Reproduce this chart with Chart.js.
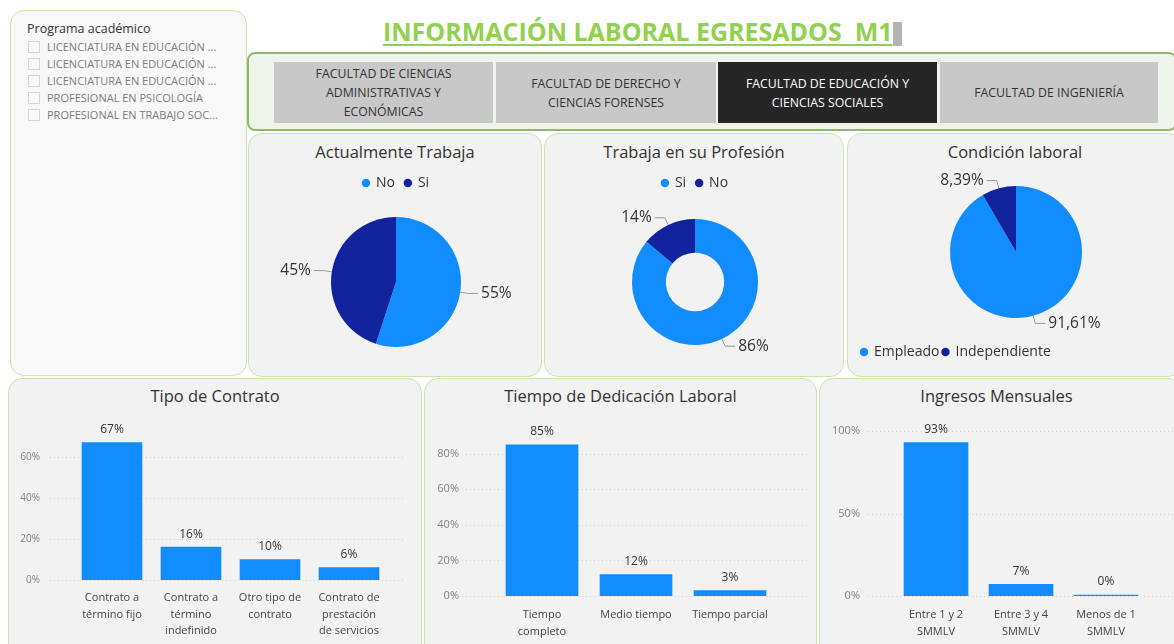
<!DOCTYPE html>
<html lang="es">
<head>
<meta charset="utf-8">
<title>Información laboral egresados M1</title>
<script src="https://cdn.jsdelivr.net/npm/chart.js@4.4.1/dist/chart.umd.min.js"></script>
<style>
  body { margin: 0; width: 1174px; height: 644px; overflow: hidden; background: #fff; position: relative; font-family: 'Open Sans', 'Noto Sans', sans-serif; }
  .panel { position: absolute; box-sizing: border-box; background: #f2f2f2; border: 1.5px solid #cbe4b0; border-radius: 14px; }
  canvas { position: absolute; }
  .ttl { position: absolute; text-align: center; font-size: 16.5px; line-height: 20px; color: #333; }
  .btn { position: absolute; top: 62px; height: 61px; width: 219px; background: #c8c8c8; color: #333; font-size: 12.3px; line-height: 19px; text-align: center; display: flex; align-items: center; justify-content: center; }
  .btn.on { background: #262626; color: #fff; }
  .item { position: absolute; left: 28px; font-size: 11px; color: #7c7c7c; line-height: 13px; white-space: nowrap; }
  .item span { display: inline-block; width: 10px; height: 10px; border: 1px solid #d6d6d6; background: #fafafa; vertical-align: -2px; margin-right: 7px; }
</style>
</head>
<body>

<!-- segmentador de programa -->
<div class="panel" style="left:10px;top:10px;width:237px;height:366px;background:#f8f8f8"></div>
<div style="position:absolute;left:27px;top:20px;font-size:12.5px;color:#333">Programa académico</div>
<div class="item" style="top:40px"><span></span>LICENCIATURA EN EDUCACIÓN ...</div>
<div class="item" style="top:57px"><span></span>LICENCIATURA EN EDUCACIÓN ...</div>
<div class="item" style="top:74px"><span></span>LICENCIATURA EN EDUCACIÓN ...</div>
<div class="item" style="top:91px"><span></span>PROFESIONAL EN PSICOLOGÍA</div>
<div class="item" style="top:108px"><span></span>PROFESIONAL EN TRABAJO SOC...</div>

<!-- titulo -->
<div style="position:absolute;left:383px;top:14px;font-size:25px;font-weight:bold;color:#92d050;text-decoration:underline;text-underline-offset:3px;white-space:pre">INFORMACIÓN LABORAL EGRESADOS  M1</div>
<div style="position:absolute;left:893px;top:22px;width:9px;height:24px;background:#b4b4b4"></div>

<!-- facultades -->
<div class="panel" style="left:247px;top:52px;width:930px;height:79px;background:#eef4ea;border:2px solid #8fb870;border-radius:8px"></div>
<div class="btn" style="left:274px">FACULTAD DE CIENCIAS<br>ADMINISTRATIVAS Y<br>ECONÓMICAS</div>
<div class="btn" style="left:496px;width:220px">FACULTAD DE DERECHO Y<br>CIENCIAS FORENSES</div>
<div class="btn on" style="left:718px">FACULTAD DE EDUCACIÓN Y<br>CIENCIAS SOCIALES</div>
<div class="btn" style="left:940px;width:218px">FACULTAD DE INGENIERÍA</div>

<!-- paneles de graficos -->
<div class="panel" style="left:248px;top:133px;width:294px;height:244px"></div>
<div class="panel" style="left:544px;top:133px;width:300px;height:244px"></div>
<div class="panel" style="left:847px;top:133px;width:335px;height:244px"></div>
<div class="panel" style="left:8px;top:378px;width:414px;height:280px"></div>
<div class="panel" style="left:424px;top:378px;width:393px;height:280px"></div>
<div class="panel" style="left:819px;top:378px;width:363px;height:280px"></div>

<div class="ttl" style="left:248px;top:142px;width:294px">Actualmente Trabaja</div>
<div class="ttl" style="left:544px;top:142px;width:300px">Trabaja en su Profesión</div>
<div class="ttl" style="left:847px;top:142px;width:336px">Condición laboral</div>
<div class="ttl" style="left:8px;top:386px;width:414px">Tipo de Contrato</div>
<div class="ttl" style="left:424px;top:386px;width:393px">Tiempo de Dedicación Laboral</div>
<div class="ttl" style="left:819px;top:386px;width:355px">Ingresos Mensuales</div>

<canvas id="actual" width="293" height="243" style="left:248px;top:133px"></canvas>
<canvas id="profesion" width="299" height="243" style="left:544px;top:133px"></canvas>
<canvas id="condicion" width="327" height="243" style="left:847px;top:133px"></canvas>
<canvas id="contrato" width="413" height="266" style="left:8px;top:378px"></canvas>
<canvas id="tiempo" width="392" height="266" style="left:424px;top:378px"></canvas>
<canvas id="ingresos" width="355" height="266" style="left:819px;top:378px"></canvas>

<script>
// ===================================
// Datos
// ===================================
const actualLabels = ['No', 'Si'];
const actualValues = [55, 45];

const profesionLabels = ['Si', 'No'];
const profesionValues = [86, 14];

const condicionLabels = ['Empleado', 'Independiente'];
const condicionValues = [91.61, 8.39];

const contratoLabels = [['Contrato a', 'término fijo'], ['Contrato a', 'término', 'indefinido'], ['Otro tipo de', 'contrato'], ['Contrato de', 'prestación', 'de servicios']];
const contratoValues = [67, 16, 10, 6];
const contratoTicks = [0, 20, 40, 60];

const tiempoLabels = [['Tiempo', 'completo'], 'Medio tiempo', 'Tiempo parcial'];
const tiempoValues = [85, 12, 3];
const tiempoTicks = [0, 20, 40, 60, 80];

const ingresosLabels = [['Entre 1 y 2', 'SMMLV'], ['Entre 3 y 4', 'SMMLV'], ['Menos de 1', 'SMMLV']];
const ingresosValues = [93, 7, 0];
const ingresosTicks = [0, 50, 100];

const AZUL = '#118dff';
const AZUL_OSCURO = '#12239e';
const FUENTE = "'Open Sans', 'Noto Sans', sans-serif";

Chart.defaults.font.family = FUENTE;
Chart.defaults.animation = false;

function pct(v, dec) {
  return v.toFixed(dec).replace('.', ',') + '%';
}

// ===================================
// Plugins: etiquetas de torta y barras
// ===================================
const pieLabels = {
  id: 'pieLabels',
  afterDatasetsDraw(chart, args, opts) {
    const ctx = chart.ctx;
    const values = chart.data.datasets[0].data;
    ctx.save();
    ctx.font = '15.5px ' + FUENTE;
    ctx.fillStyle = '#333';
    ctx.strokeStyle = '#9a9a9a';
    ctx.lineWidth = 1;
    ctx.textBaseline = 'middle';
    chart.getDatasetMeta(0).data.forEach((arc, i) => {
      const mid = (arc.startAngle + arc.endAngle) / 2;
      const r = arc.outerRadius;
      const x0 = arc.x + Math.cos(mid) * r, y0 = arc.y + Math.sin(mid) * r;
      const x1 = arc.x + Math.cos(mid) * (r + 8), y1 = arc.y + Math.sin(mid) * (r + 8);
      const right = Math.cos(mid) >= 0;
      const x2 = x1 + (right ? 10 : -10);
      ctx.beginPath();
      ctx.moveTo(x0, y0);
      ctx.lineTo(x1, y1);
      ctx.lineTo(x2, y1);
      ctx.stroke();
      ctx.textAlign = right ? 'left' : 'right';
      ctx.fillText(pct(values[i], opts.decimals || 0), x2 + (right ? 3 : -3), y1);
    });
    ctx.restore();
  }
};

const barValues = {
  id: 'barValues',
  afterDatasetsDraw(chart) {
    const ctx = chart.ctx;
    const values = chart.data.datasets[0].data;
    ctx.save();
    ctx.font = '12px ' + FUENTE;
    ctx.fillStyle = '#333';
    ctx.textAlign = 'center';
    ctx.textBaseline = 'middle';
    chart.getDatasetMeta(0).data.forEach((bar, i) => {
      ctx.fillText(pct(values[i], 0), bar.x, bar.y - 13);
    });
    ctx.restore();
  }
};

// cuadricula punteada que pasa un poco los bordes del area de barras
const dotGrid = {
  id: 'dotGrid',
  beforeDatasetsDraw(chart, args, opts) {
    const ctx = chart.ctx;
    const y = chart.scales.y;
    ctx.save();
    ctx.strokeStyle = '#cfcfcf';
    ctx.lineWidth = 1;
    ctx.setLineDash([1, 3]);
    y.ticks.forEach(t => {
      const py = Math.round(y.getPixelForValue(t.value)) + 0.5;
      ctx.beginPath();
      ctx.moveTo(opts.x0, py);
      ctx.lineTo(opts.x1, py);
      ctx.stroke();
    });
    ctx.restore();
  }
};

// ===================================
// Graficos
// ===================================
function pieChart(id, labels, values, cfg) {
  new Chart(document.getElementById(id), {
    type: cfg.cutout ? 'doughnut' : 'pie',
    data: {
      labels: labels,
      datasets: [{
        data: values,
        backgroundColor: [AZUL, AZUL_OSCURO],
        borderWidth: 0,
        radius: cfg.radius,
        cutout: cfg.cutout || 0
      }]
    },
    options: {
      responsive: false,
      layout: { padding: cfg.padding },
      plugins: {
        tooltip: { enabled: false },
        pieLabels: { decimals: cfg.decimals },
        legend: {
          position: cfg.legendPos,
          align: cfg.legendAlign || 'center',
          labels: {
            usePointStyle: true,
            pointStyle: 'circle',
            boxWidth: 6,
            boxHeight: 6,
            padding: cfg.legendPadding,
            color: '#333',
            font: { size: 14 }
          }
        }
      }
    },
    plugins: [pieLabels]
  });
}

function barChart(id, labels, values, ticks, cfg) {
  new Chart(document.getElementById(id), {
    type: 'bar',
    data: {
      labels: labels,
      datasets: [{
        data: values,
        backgroundColor: AZUL,
        barThickness: cfg.barWidth,
        minBarLength: 1
      }]
    },
    options: {
      responsive: false,
      layout: { padding: { top: cfg.top, right: cfg.right, left: 0, bottom: 0 } },
      plugins: {
        legend: { display: false },
        tooltip: { enabled: false },
        dotGrid: { x0: cfg.gridX0, x1: cfg.gridX1 }
      },
      scales: {
        x: {
          offset: true,
          grid: { display: false },
          border: { display: false },
          afterFit: s => { s.height = cfg.xHeight; },
          ticks: {
            color: '#444',
            padding: cfg.xPad,
            autoSkip: false,
            maxRotation: 0,
            minRotation: 0,
            font: { size: 11, lineHeight: 1.5 }
          }
        },
        y: {
          min: 0,
          max: cfg.max,
          grid: { display: false, drawTicks: false, tickLength: 0 },
          border: { display: false },
          afterFit: s => { s.width = cfg.yWidth; },
          afterBuildTicks: s => { s.ticks = ticks.map(v => ({ value: v })); },
          ticks: {
            color: '#808080',
            padding: cfg.yPad,
            font: { size: cfg.yFont },
            callback: v => v + '%'
          }
        }
      }
    },
    plugins: [dotGrid, barValues]
  });
}

document.addEventListener('DOMContentLoaded', function() {
  pieChart('actual', actualLabels, actualValues, {
    radius: 65, legendPos: 'top', legendPadding: 10,
    padding: { top: 33, bottom: 12, left: 3, right: 0 }
  });
  pieChart('profesion', profesionLabels, profesionValues, {
    radius: 63, cutout: 38, legendPos: 'top', legendPadding: 10,
    padding: { top: 33, bottom: 12, left: 3, right: 0 }
  });
  pieChart('condicion', condicionLabels, condicionValues, {
    radius: 66, decimals: 2, legendPos: 'bottom', legendAlign: 'start', legendPadding: 3,
    padding: { top: 29, bottom: 7, left: 11, right: 0 }
  });

  barChart('contrato', contratoLabels, contratoValues, contratoTicks, {
    max: 70, top: 58.5, right: 32.5, yWidth: 64.5, yPad: 32.5, yFont: 10,
    xHeight: 64, xPad: 2, barWidth: 60, gridX0: 42, gridX1: 397
  });
  barChart('tiempo', tiempoLabels, tiempoValues, tiempoTicks, {
    max: 90, top: 58, right: 39, yWidth: 71, yPad: 36, yFont: 11,
    xHeight: 48, xPad: 3, barWidth: 72, gridX0: 38, gridX1: 384
  });
  barChart('ingresos', ingresosLabels, ingresosValues, ingresosTicks, {
    max: 100, top: 53, right: 25.5, yWidth: 74.5, yPad: 33.5, yFont: 11,
    xHeight: 48, xPad: 3, barWidth: 64, gridX0: 49, gridX1: 355
  });
});
</script>
</body>
</html>
